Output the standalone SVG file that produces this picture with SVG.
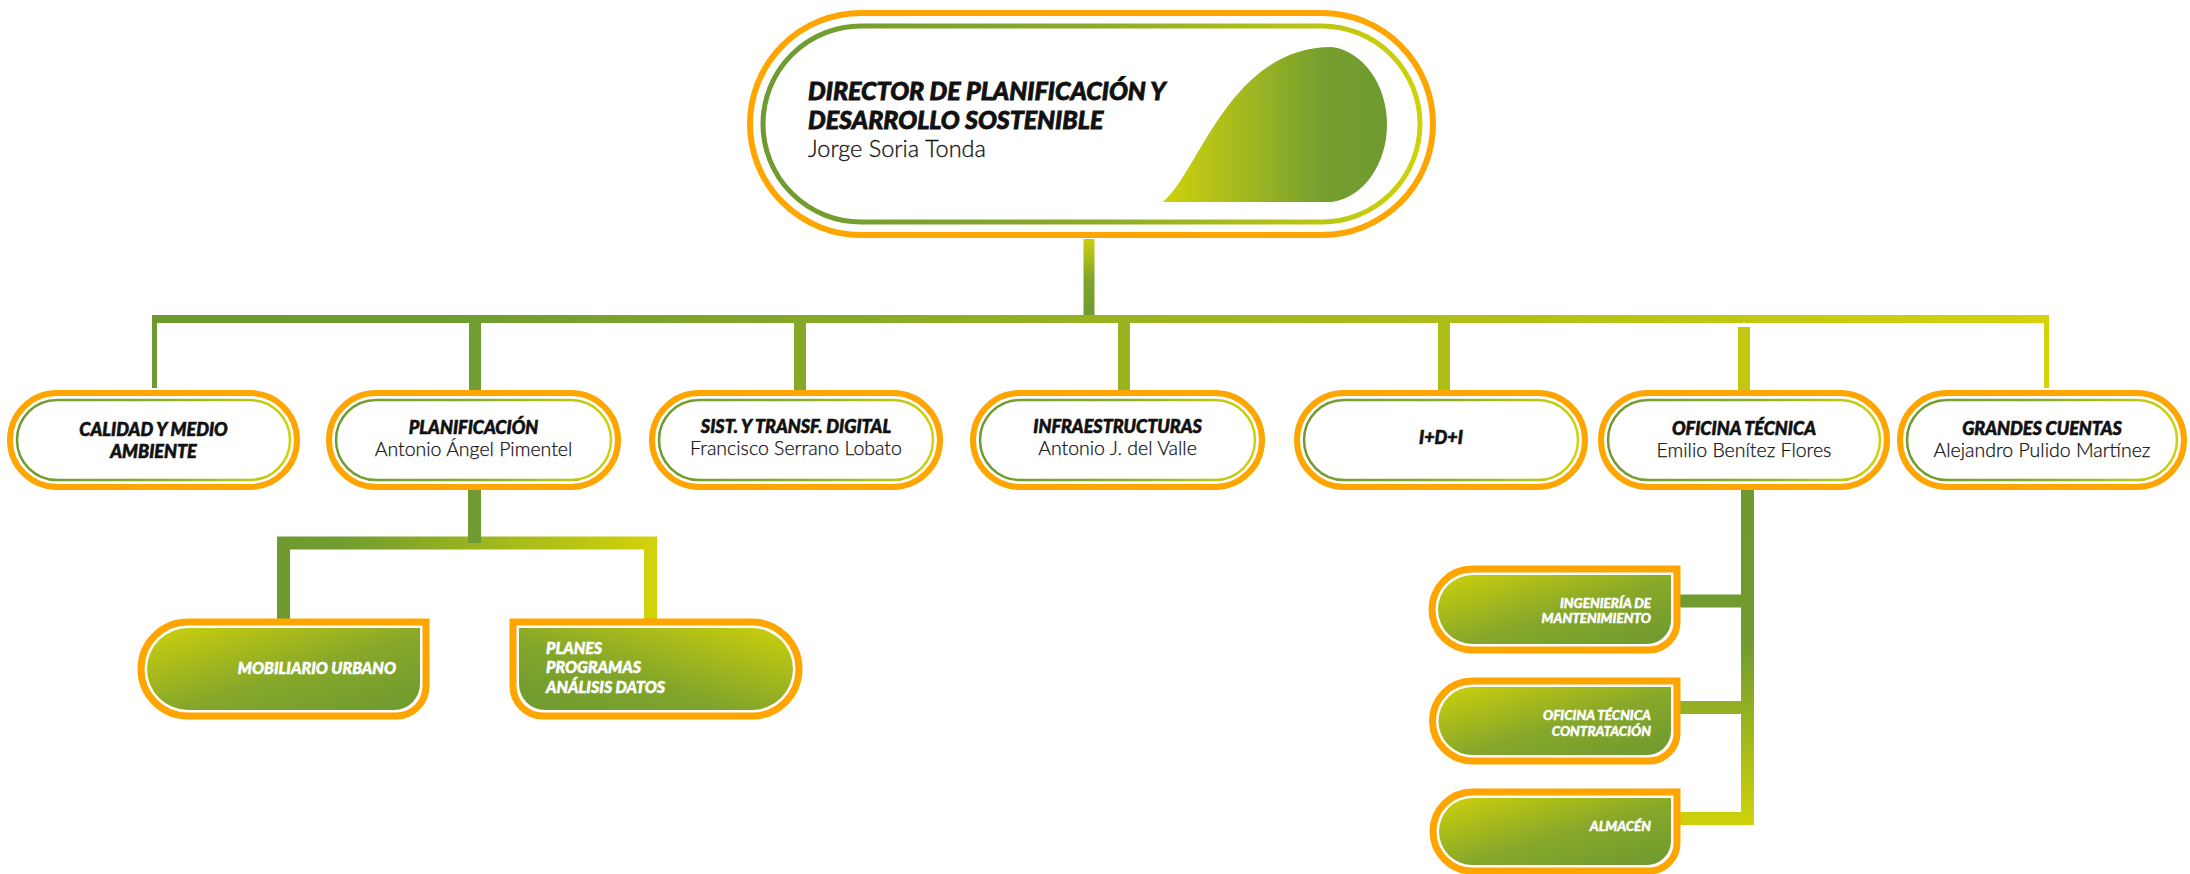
<svg xmlns="http://www.w3.org/2000/svg" width="2190" height="874" viewBox="0 0 2190 874">
<defs>
<style>
.ob{fill:#fff;stroke:#ffa500;stroke-width:6}
.ib{fill:none;stroke:url(#gInner);stroke-width:2.5}
.so{fill:#fff;stroke:#ffa500;stroke-width:7}
.t{font-family:Lato,"Liberation Sans",sans-serif;font-weight:900;font-style:italic;fill:#111;stroke:#111;stroke-width:0.6;font-size:18px;text-anchor:middle}
.n{font-family:Lato,"Liberation Sans",sans-serif;font-weight:300;fill:#111;stroke:#111;stroke-width:0.25;font-size:19.5px;text-anchor:middle}
.w{font-family:Lato,"Liberation Sans",sans-serif;font-weight:900;font-style:italic;fill:#fff;stroke:#fff;stroke-width:0.5;font-size:16px}
.ws{font-family:Lato,"Liberation Sans",sans-serif;font-weight:900;font-style:italic;fill:#fff;stroke:#fff;stroke-width:0.4;font-size:13.5px;text-anchor:end}
.tt{font-family:Lato,"Liberation Sans",sans-serif;font-weight:900;font-style:italic;font-size:25px;fill:#111;stroke:#111;stroke-width:0.8}
</style>
<linearGradient id="gInner" x1="0" y1="0" x2="1" y2="0">
<stop offset="0" stop-color="#6e9a30"/><stop offset="0.5" stop-color="#8aab29"/><stop offset="1" stop-color="#cfd20a"/>
</linearGradient>
<linearGradient id="gLeaf" x1="0" y1="0" x2="1" y2="0">
<stop offset="0" stop-color="#cfd20a"/><stop offset="0.35" stop-color="#a5b920"/><stop offset="0.7" stop-color="#76a02e"/><stop offset="1" stop-color="#6e9a30"/>
</linearGradient>
<linearGradient id="gBar" gradientUnits="userSpaceOnUse" x1="152" y1="0" x2="2049" y2="0">
<stop offset="0" stop-color="#6e9a30"/><stop offset="0.15" stop-color="#6f9b30"/><stop offset="1" stop-color="#d3d30a"/>
</linearGradient>
<linearGradient id="gTrunk" gradientUnits="userSpaceOnUse" x1="0" y1="239" x2="0" y2="318">
<stop offset="0" stop-color="#cdd00c"/><stop offset="0.5" stop-color="#82a52b"/><stop offset="1" stop-color="#6e9a30"/>
</linearGradient>
<linearGradient id="gPlan" gradientUnits="userSpaceOnUse" x1="277" y1="0" x2="657" y2="0">
<stop offset="0" stop-color="#6e9a30"/><stop offset="0.15" stop-color="#6f9b30"/><stop offset="1" stop-color="#d2d30a"/>
</linearGradient>
<linearGradient id="gOT" gradientUnits="userSpaceOnUse" x1="0" y1="490" x2="0" y2="825">
<stop offset="0" stop-color="#6e9a30"/><stop offset="0.45" stop-color="#709b30"/><stop offset="1" stop-color="#d0d20a"/>
</linearGradient>
<linearGradient id="gSubA" x1="0" y1="0" x2="1" y2="1">
<stop offset="0" stop-color="#cdd00b"/><stop offset="0.55" stop-color="#86a72a"/><stop offset="1" stop-color="#6e9a30"/>
</linearGradient>
<linearGradient id="gSubB" x1="0" y1="1" x2="1" y2="0">
<stop offset="0" stop-color="#6e9a30"/><stop offset="0.4" stop-color="#82a52b"/><stop offset="1" stop-color="#cdd00b"/>
</linearGradient>
</defs>

<g id="connectors" fill="none">
<line x1="1089" y1="239" x2="1089" y2="318" stroke="url(#gTrunk)" stroke-width="11"/>
<line x1="152" y1="319" x2="2049" y2="319" stroke="url(#gBar)" stroke-width="8"/>
<line x1="154.5" y1="315" x2="154.5" y2="388" stroke="url(#gBar)" stroke-width="5"/>
<line x1="2046.5" y1="315" x2="2046.5" y2="388" stroke="url(#gBar)" stroke-width="5"/>
<line x1="475" y1="322" x2="475" y2="390" stroke="url(#gBar)" stroke-width="12"/>
<line x1="800" y1="322" x2="800" y2="390" stroke="url(#gBar)" stroke-width="12"/>
<line x1="1124" y1="322" x2="1124" y2="390" stroke="url(#gBar)" stroke-width="12"/>
<line x1="1444" y1="322" x2="1444" y2="390" stroke="url(#gBar)" stroke-width="12"/>
<line x1="1744" y1="327" x2="1744" y2="390" stroke="url(#gBar)" stroke-width="12"/>
<path d="M283.5 619 V543 H650.5 V619" stroke="url(#gPlan)" stroke-width="13"/>
<line x1="474.5" y1="490" x2="474.5" y2="543" stroke="#6f9b30" stroke-width="13"/>
<path d="M1747.5 490 V818.5 H1680" stroke="url(#gOT)" stroke-width="13"/>
<line x1="1680" y1="601" x2="1747.5" y2="601" stroke="url(#gOT)" stroke-width="13"/>
<line x1="1680" y1="707.5" x2="1747.5" y2="707.5" stroke="url(#gOT)" stroke-width="13"/>
</g>

<g id="director">
<rect class="ob" x="750" y="13" width="683" height="222" rx="111"/>
<rect x="763" y="26" width="657" height="196" rx="98" fill="none" stroke="url(#gInner)" stroke-width="5"/>
<path d="M1163 202 C1200 170 1230 47 1332 47 A62 78 0 0 1 1332 202 Z" fill="url(#gLeaf)"/>
<text class="tt" x="808" y="100">DIRECTOR DE PLANIFICACIÓN Y</text>
<text class="tt" x="808" y="129">DESARROLLO SOSTENIBLE</text>
<text x="808" y="157" style="font-family:Lato,'Liberation Sans',sans-serif;font-weight:300;font-size:23.5px;fill:#111;stroke:#111;stroke-width:0.3">Jorge Soria Tonda</text>
</g>

<g id="calidad">
<rect class="ob" x="10" y="393" width="287" height="94" rx="47"/>
<rect class="ib" x="17" y="400" width="273" height="80" rx="40"/>
<text class="t" x="153.5" y="436">CALIDAD Y MEDIO</text>
<text class="t" x="153.5" y="458">AMBIENTE</text>
</g>

<g id="planificacion">
<rect class="ob" x="329" y="393" width="289" height="94" rx="47"/>
<rect class="ib" x="336" y="400" width="275" height="80" rx="40"/>
<text class="t" x="473.5" y="434">PLANIFICACIÓN</text>
<text class="n" x="473.5" y="456">Antonio Ángel Pimentel</text>
</g>

<g id="sistemas">
<rect class="ob" x="652" y="393" width="288" height="94" rx="47"/>
<rect class="ib" x="659" y="400" width="274" height="80" rx="40"/>
<text class="t" x="796" y="433">SIST. Y TRANSF. DIGITAL</text>
<text class="n" x="796" y="455">Francisco Serrano Lobato</text>
</g>

<g id="infraestructuras">
<rect class="ob" x="973" y="393" width="289" height="94" rx="47"/>
<rect class="ib" x="980" y="400" width="275" height="80" rx="40"/>
<text class="t" x="1117.5" y="433">INFRAESTRUCTURAS</text>
<text class="n" x="1117.5" y="455">Antonio J. del Valle</text>
</g>

<g id="idi">
<rect class="ob" x="1297" y="393" width="288" height="94" rx="47"/>
<rect class="ib" x="1304" y="400" width="274" height="80" rx="40"/>
<text class="t" x="1441" y="444">I+D+I</text>
</g>

<g id="oficina-tecnica">
<rect class="ob" x="1601" y="393" width="286" height="94" rx="47"/>
<rect class="ib" x="1608" y="400" width="272" height="80" rx="40"/>
<text class="t" x="1744" y="435">OFICINA TÉCNICA</text>
<text class="n" x="1744" y="457">Emilio Benítez Flores</text>
</g>

<g id="grandes-cuentas">
<rect class="ob" x="1900" y="393" width="284" height="94" rx="47"/>
<rect class="ib" x="1907" y="400" width="270" height="80" rx="40"/>
<text class="t" x="2042" y="435">GRANDES CUENTAS</text>
<text class="n" x="2042" y="457">Alejandro Pulido Martínez</text>
</g>

<g id="mobiliario">
<path class="so" d="M188 622 H426 V686 A30 30 0 0 1 396 716 H188 A47 47 0 0 1 188 622 Z"/>
<path fill="url(#gSubA)" d="M188 628 H420 V684 A26 26 0 0 1 394 710 H188 A41 41 0 0 1 188 628 Z"/>
<text class="w" x="396" y="674" text-anchor="end">MOBILIARIO URBANO</text>
</g>

<g id="planes">
<path class="so" d="M513 622 H752 A47 47 0 0 1 752 716 H543 A30 30 0 0 1 513 686 Z"/>
<path fill="url(#gSubB)" d="M519 628 H752 A41 41 0 0 1 752 710 H545 A26 26 0 0 1 519 684 Z"/>
<text class="w" x="546" y="654">PLANES</text>
<text class="w" x="546" y="673">PROGRAMAS</text>
<text class="w" x="546" y="693">ANÁLISIS DATOS</text>
</g>

<g id="ingenieria">
<path class="so" d="M1472.5 569 H1677 V622 A28 28 0 0 1 1649 650 H1472.5 A40.5 40.5 0 0 1 1472.5 569 Z"/>
<path fill="url(#gSubA)" d="M1472.5 575 H1671 V620 A24 24 0 0 1 1647 644 H1472.5 A34.5 34.5 0 0 1 1472.5 575 Z"/>
<text class="ws" x="1651" y="608">INGENIERÍA DE</text>
<text class="ws" x="1651" y="623">MANTENIMIENTO</text>
</g>

<g id="contratacion">
<path class="so" d="M1472.5 681 H1677 V733 A28 28 0 0 1 1649 761 H1472.5 A40 40 0 0 1 1472.5 681 Z"/>
<path fill="url(#gSubA)" d="M1472.5 687 H1671 V731 A24 24 0 0 1 1647 755 H1472.5 A34 34 0 0 1 1472.5 687 Z"/>
<text class="ws" x="1651" y="720">OFICINA TÉCNICA</text>
<text class="ws" x="1651" y="736">CONTRATACIÓN</text>
</g>

<g id="almacen">
<path class="so" d="M1472.5 792 H1677 V843 A28 28 0 0 1 1649 871 H1472.5 A39.5 39.5 0 0 1 1472.5 792 Z"/>
<path fill="url(#gSubA)" d="M1472.5 798 H1671 V841 A24 24 0 0 1 1647 865 H1472.5 A33.5 33.5 0 0 1 1472.5 798 Z"/>
<text class="ws" x="1651" y="831">ALMACÉN</text>
</g>
</svg>
